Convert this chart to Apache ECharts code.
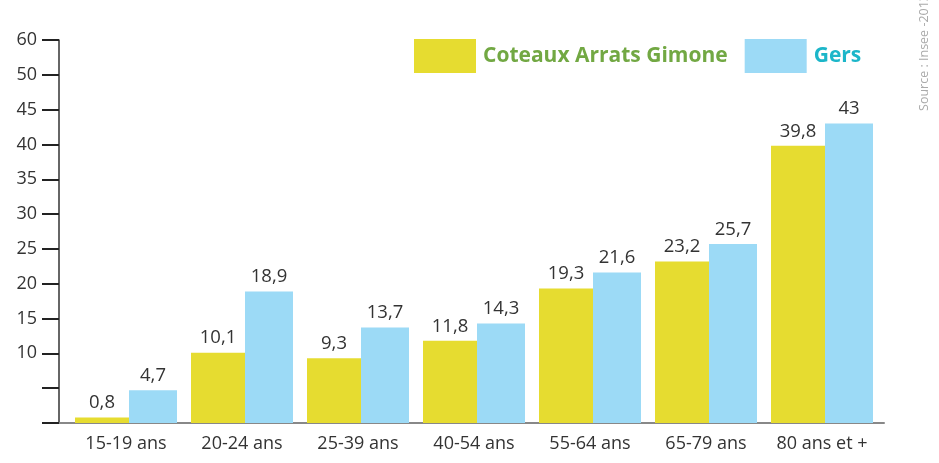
<!DOCTYPE html>
<html>
<head>
<meta charset="utf-8">
<script src="https://cdn.jsdelivr.net/npm/echarts@6/dist/echarts.min.js"></script>
<style>
  html, body { margin: 0; padding: 0; background: #fff; }
  #chart { width: 939px; height: 463px; }
</style>
</head>
<body>
<div id="chart"></div>
<script>
// Age groups and rates for the two areas
const categories = ['15-19 ans', '20-24 ans', '25-39 ans', '40-54 ans', '55-64 ans', '65-79 ans', '80 ans et +'];
const coteauxValues = [0.8, 10.1, 9.3, 11.8, 19.3, 23.2, 39.8];
const gersValues = [4.7, 18.9, 13.7, 14.3, 21.6, 25.7, 43];
const seriesNames = ['Coteaux Arrats Gimone', 'Gers'];
// Y tick labels, from 0 upward in steps of 5
const yTickLabels = ['', '', '10', '15', '20', '25', '30', '35', '40', '45', '50', '60'];

const FONT = '"Open Sans", "Noto Sans", sans-serif';
const fmt = v => String(v).replace('.', ',');

const chart = echarts.init(document.getElementById('chart'));
chart.setOption({
  animation: false,
  backgroundColor: '#ffffff',
  grid: [
    { left: 68, right: 59, top: 40, bottom: 40, containLabel: false },
    { left: 59, right: 55, top: 40, bottom: 40, containLabel: false }
  ],
  legend: {
    top: 39,
    left: 414,
    padding: 0,
    itemWidth: 62,
    itemHeight: 34,
    itemGap: 17,
    icon: 'rect',
    textStyle: { fontFamily: FONT, fontSize: 21, fontWeight: 'bold', padding: [2, 0, 0, 2] },
    data: [
      { name: seriesNames[0], textStyle: { color: '#72a843' } },
      { name: seriesNames[1], textStyle: { color: '#1cb6c9' } }
    ]
  },
  xAxis: [
    {
      type: 'category',
      gridIndex: 0,
      data: categories,
      axisLine: { show: false },
      axisTick: { show: false },
      axisLabel: { interval: 0, hideOverlap: false, color: '#333', fontFamily: FONT, fontSize: 18, margin: 12 }
    },
    {
      type: 'value',
      gridIndex: 1,
      min: 0, max: 1,
      axisLine: { show: true, onZero: false, lineStyle: { color: '#888', width: 2 } },
      axisTick: { show: false },
      axisLabel: { show: false },
      splitLine: { show: false }
    }
  ],
  yAxis: [
    {
      type: 'value',
      gridIndex: 0,
      min: 0,
      max: 55,
      interval: 5,
      offset: 9,
      axisLine: { show: true, lineStyle: { color: '#333', width: 1.5 } },
      axisTick: { show: true, length: 17, lineStyle: { color: '#222', width: 2 } },
      axisLabel: {
        color: '#333', fontFamily: FONT, fontSize: 18, margin: 22,
        formatter: v => yTickLabels[Math.round(v / 5)]
      },
      splitLine: { show: false }
    },
    {
      type: 'value',
      gridIndex: 1,
      min: 0, max: 1,
      show: false
    }
  ],
  series: [
    {
      name: seriesNames[0],
      type: 'bar',
      xAxisIndex: 0, yAxisIndex: 0,
      data: coteauxValues,
      barWidth: 54,
      barGap: '0%',
      itemStyle: { color: '#e6dc30' },
      label: {
        show: true, position: 'top', distance: 5,
        color: '#333', fontFamily: FONT, fontSize: 18.5,
        formatter: p => fmt(p.value)
      }
    },
    {
      name: seriesNames[1],
      type: 'bar',
      xAxisIndex: 0, yAxisIndex: 0,
      data: gersValues,
      barWidth: 48,
      barGap: '0%',
      itemStyle: { color: '#9cdaf6' },
      label: {
        show: true, position: 'top', distance: 5,
        color: '#333', fontFamily: FONT, fontSize: 18.5,
        formatter: p => fmt(p.value)
      }
    }
  ],
  graphic: [
    {
      type: 'text',
      left: 918,
      top: -6,
      rotation: Math.PI / 2,
      originX: 0, originY: 0,
      style: {
        text: 'Source : Insee -2013',
        fill: '#aaa',
        font: '12.5px "Open Sans", sans-serif'
      }
    }
  ]
});
</script>
</body>
</html>
